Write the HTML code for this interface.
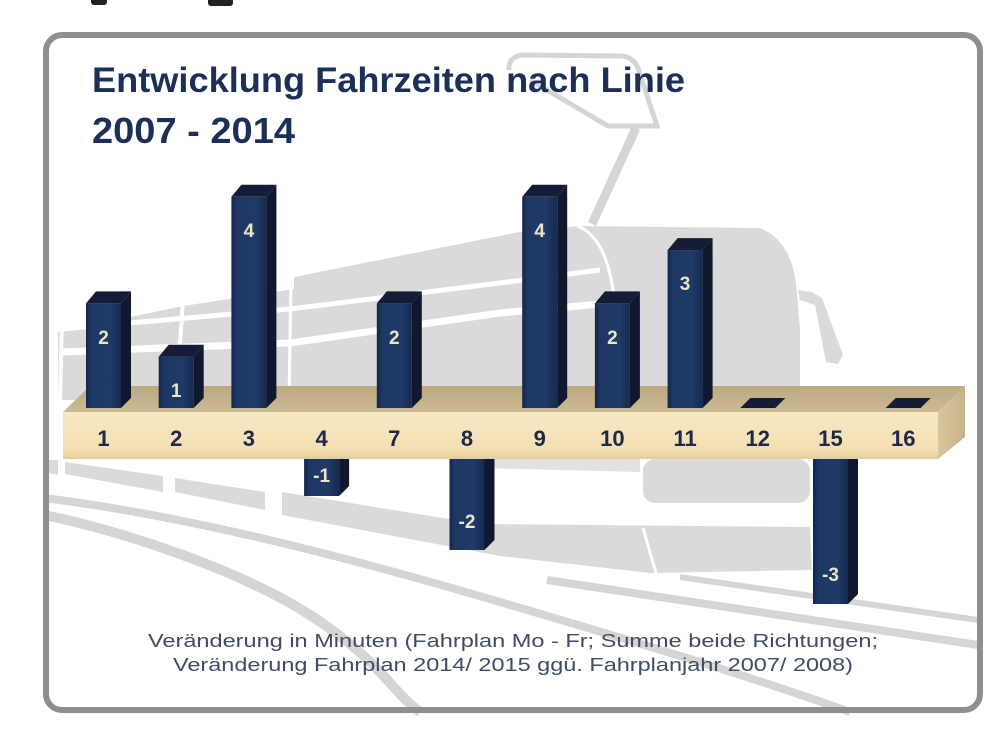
<!DOCTYPE html>
<html><head><meta charset="utf-8"><style>html,body{margin:0;padding:0;background:#fff}svg{display:block}</style></head><body>
<svg width="1000" height="739" viewBox="0 0 1000 739" xmlns="http://www.w3.org/2000/svg" font-family="'Liberation Sans', sans-serif">
<defs>
<linearGradient id="fg" x1="0" x2="1" y1="0" y2="0">
<stop offset="0" stop-color="#13254a"/><stop offset="0.15" stop-color="#1e3864"/><stop offset="0.7" stop-color="#1f3a67"/><stop offset="1" stop-color="#152a50"/>
</linearGradient>
<linearGradient id="btop" x1="0" x2="0" y1="0" y2="1"><stop offset="0" stop-color="#bba982"/><stop offset="1" stop-color="#cdba94"/></linearGradient>
<linearGradient id="bfront" x1="0" x2="0" y1="0" y2="1"><stop offset="0" stop-color="#f8e8c3"/><stop offset="0.8" stop-color="#f4dfb2"/><stop offset="1" stop-color="#e4cd9c"/></linearGradient>
<linearGradient id="bside" x1="0" x2="1" y1="0" y2="0"><stop offset="0" stop-color="#d8c59b"/><stop offset="1" stop-color="#c6b48c"/></linearGradient>
</defs>
<rect width="1000" height="739" fill="#fff"/>
<rect x="91" y="-3" width="16" height="8" rx="3" fill="#222"/>
<rect x="208" y="-3" width="25" height="9" rx="3" fill="#222"/>
<rect x="46" y="35" width="934" height="675" rx="16" fill="#fff"/>
<g fill="#dadada">
<path d="M58,332 L183,306 L294,289 L294,277 L519,232 L580,226 L760,228 Q790,240 796,283 L800,330 L800,400 L58,400 Z"/>
<path d="M798,290 L812,292 L822,298 L843,355 L838,364 L826,362 L815,305 L800,300 Z"/>
<rect x="643" y="459" width="167" height="44" rx="12"/>
<path d="M282,492 L480,524 L810,527 L812,570 L650,573 L500,556 L282,515 Z"/>
<path d="M65,462 L163,476 L163,492 L65,474 Z"/>
<path d="M175,478 L265,492 L265,510 L175,492 Z"/>
<path d="M45,460 L58,460 L58,475 L45,472 Z"/>
<path d="M480,459 L640,459 L640,472 L480,468 Z" fill="#e2e2e2"/>
</g>
<g stroke="#fff" fill="none">
<polyline points="61,329 290,309 500,283 600,270" stroke-width="5"/>
<polyline points="61,352 290,343 500,313 612,303" stroke-width="7"/>
<line x1="183" y1="300" x2="176" y2="400" stroke-width="4"/>
<line x1="291" y1="280" x2="289" y2="400" stroke-width="3"/>
<line x1="62" y1="320" x2="60" y2="400" stroke-width="4"/>
<path d="M577,226 Q605,236 613,290 L618,400" stroke-width="3"/>
<line x1="643" y1="528" x2="656" y2="573" stroke-width="3"/>
</g>
<g stroke="#d5d5d5" fill="none">
<path d="M509,70 Q508,56 524,55 L622,56 Q633,57 638,68 L657,126 L608,126 L530,80" stroke-width="5"/>
<line x1="636" y1="128" x2="592" y2="224" stroke-width="9"/>
<path d="M44,498 C180,515 330,552 500,602 S760,680 850,712" stroke-width="8"/>
<path d="M44,515 C120,530 240,570 310,615 S390,690 420,712" stroke-width="10"/>
<path d="M547,580 L978,645" stroke-width="8"/>
<path d="M680,577 L978,620" stroke-width="6"/>
</g>
<rect x="46" y="35" width="934" height="675" rx="16" fill="none" stroke="#8f8f8f" stroke-width="6"/>

<!-- beam -->
<polygon points="63,412 90,386 965,386 938,412" fill="url(#btop)"/>
<rect x="63" y="412" width="875" height="47" fill="url(#bfront)"/>
<polygon points="938,412 965,386 965,437 938,459" fill="url(#bside)"/>

<!-- positive bars -->
<g>
<!-- template: L, yt -->
<g transform="translate(86,0)"><rect x="0" y="303.4" width="35" height="104.6" fill="url(#fg)"/><polygon points="0,303.4 35,303.4 45,291.4 10,291.4" fill="#141c36"/><polygon points="35,303.4 45,291.4 45,398 35,408" fill="#101830"/></g>
<g transform="translate(158.7,0)"><rect x="0" y="356.7" width="35" height="51.3" fill="url(#fg)"/><polygon points="0,356.7 35,356.7 45,344.7 10,344.7" fill="#141c36"/><polygon points="35,356.7 45,344.7 45,398 35,408" fill="#101830"/></g>
<g transform="translate(231.4,0)"><rect x="0" y="196.8" width="35" height="211.2" fill="url(#fg)"/><polygon points="0,196.8 35,196.8 45,184.8 10,184.8" fill="#141c36"/><polygon points="35,196.8 45,184.8 45,398 35,408" fill="#101830"/></g>
<g transform="translate(376.8,0)"><rect x="0" y="303.4" width="35" height="104.6" fill="url(#fg)"/><polygon points="0,303.4 35,303.4 45,291.4 10,291.4" fill="#141c36"/><polygon points="35,303.4 45,291.4 45,398 35,408" fill="#101830"/></g>
<g transform="translate(522.2,0)"><rect x="0" y="196.8" width="35" height="211.2" fill="url(#fg)"/><polygon points="0,196.8 35,196.8 45,184.8 10,184.8" fill="#141c36"/><polygon points="35,196.8 45,184.8 45,398 35,408" fill="#101830"/></g>
<g transform="translate(594.9,0)"><rect x="0" y="303.4" width="35" height="104.6" fill="url(#fg)"/><polygon points="0,303.4 35,303.4 45,291.4 10,291.4" fill="#141c36"/><polygon points="35,303.4 45,291.4 45,398 35,408" fill="#101830"/></g>
<g transform="translate(667.6,0)"><rect x="0" y="250.1" width="35" height="157.9" fill="url(#fg)"/><polygon points="0,250.1 35,250.1 45,238.1 10,238.1" fill="#141c36"/><polygon points="35,250.1 45,238.1 45,398 35,408" fill="#101830"/></g>
<polygon points="740.3,408 775.3,408 785.3,398 750.3,398" fill="#141c36"/>
<polygon points="885.7,408 920.7,408 930.7,398 895.7,398" fill="#141c36"/>
</g>
<!-- negative bars -->
<g transform="translate(304.1,0)"><rect x="0" y="459" width="35" height="37" fill="url(#fg)"/><polygon points="35,459 45,459 45,486 35,496" fill="#101830"/></g>
<g transform="translate(449.5,0)"><rect x="0" y="459" width="35" height="91" fill="url(#fg)"/><polygon points="35,459 45,459 45,540 35,550" fill="#101830"/></g>
<g transform="translate(813,0)"><rect x="0" y="459" width="35" height="145" fill="url(#fg)"/><polygon points="35,459 45,459 45,594 35,604" fill="#101830"/></g>

<!-- value labels -->
<g font-size="19" font-weight="bold" fill="#ece5c6" text-anchor="middle">
<text x="103.5" y="344">2</text>
<text x="176.2" y="397">1</text>
<text x="248.9" y="237">4</text>
<text x="321.6" y="482">-1</text>
<text x="394.3" y="344">2</text>
<text x="467" y="528">-2</text>
<text x="539.7" y="237">4</text>
<text x="612.4" y="344">2</text>
<text x="685.1" y="290">3</text>
<text x="830.5" y="581">-3</text>
</g>
<!-- category labels -->
<g font-size="22" font-weight="bold" fill="#1d2946" text-anchor="middle">
<text x="103.5" y="446">1</text>
<text x="176.2" y="446">2</text>
<text x="248.9" y="446">3</text>
<text x="321.6" y="446">4</text>
<text x="394.3" y="446">7</text>
<text x="467" y="446">8</text>
<text x="539.7" y="446">9</text>
<text x="612.4" y="446">10</text>
<text x="685.1" y="446">11</text>
<text x="757.8" y="446">12</text>
<text x="830.5" y="446">15</text>
<text x="903.2" y="446">16</text>
</g>
<!-- title -->
<g font-weight="bold" fill="#1b2f57">
<text x="92" y="92" font-size="35" textLength="593" lengthAdjust="spacingAndGlyphs">Entwicklung Fahrzeiten nach Linie</text>
<text x="92" y="143" font-size="36" textLength="203" lengthAdjust="spacingAndGlyphs">2007 - 2014</text>
</g>
<!-- footnote -->
<g font-size="18" fill="#3f4c66">
<text x="148" y="647" textLength="730" lengthAdjust="spacingAndGlyphs">Veränderung in Minuten (Fahrplan Mo - Fr; Summe beide Richtungen;</text>
<text x="173" y="671" textLength="680" lengthAdjust="spacingAndGlyphs">Veränderung Fahrplan 2014/ 2015 ggü. Fahrplanjahr 2007/ 2008)</text>
</g>
</svg>
</body></html>
